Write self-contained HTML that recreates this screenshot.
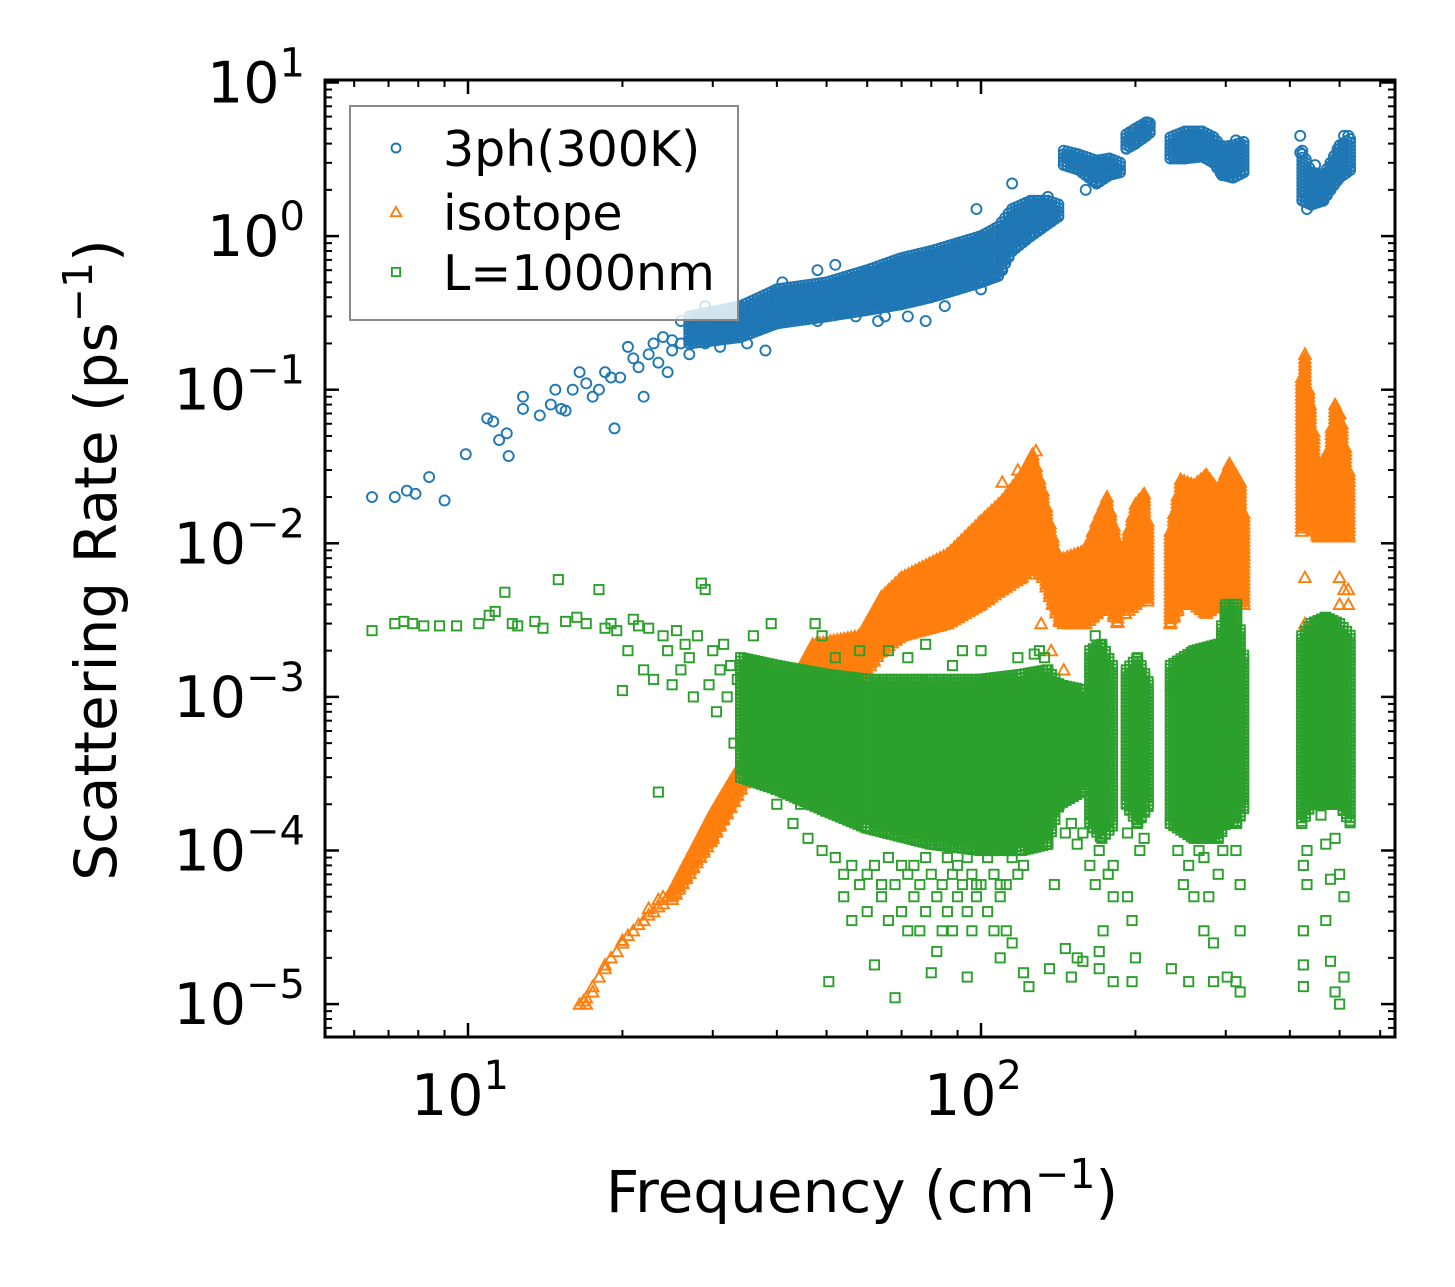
<!DOCTYPE html>
<html><head><meta charset="utf-8"><style>
html,body{margin:0;padding:0;background:#fff;}
svg{display:block;font-family:"DejaVu Sans","Liberation Sans",sans-serif;}
</style></head><body>
<svg id="chart" width="1455" height="1287" viewBox="0 0 1455 1287" xmlns="http://www.w3.org/2000/svg">
<g id="marks"></g>
<g id="axes"></g>
</svg>
<script>
// ---- data ----
const yTickExps = [1, 0, -1, -2, -3, -4, -5];
const xTickExps = [1, 2];
const seriesNames = ["3ph(300K)", "isotope", "L=1000nm"];

// dense clusters: each a list of [freq, rateLow, rateHigh] edge samples
const ph3Clusters = [
 [[27,0.2,0.3],[34,0.22,0.35],[40,0.27,0.45],[50,0.3,0.5],[60,0.33,0.6],[70,0.36,0.72],[80,0.4,0.8],[90,0.45,0.9],[100,0.5,1.0],[108,0.55,1.15],[115,0.8,1.5],[125,1.0,1.7],[135,1.2,1.7],[142,1.35,1.6]],
 [[145,2.9,3.6],[155,2.7,3.4],[168,2.2,3.1],[178,2.5,3.2],[187,2.6,3.0]],
 [[192,3.7,4.6],[200,4.0,5.0],[210,4.5,5.5],[215,4.8,5.4]],
 [[234,3.2,4.4],[250,3.2,4.8],[270,3.3,4.8],[284,3.0,4.4],[295,2.5,3.8],[310,2.4,3.9],[325,2.6,4.1]],
 [[423,1.7,3.6],[440,1.6,2.6],[465,1.7,2.5],[480,2.0,3.0],[500,2.4,3.9],[525,2.7,4.3]]
];
const isoClusters = [
 [[25,4.8e-5,5.6e-5],[30,1.2e-4,1.8e-4],[36,3.5e-4,5e-4],[42,7e-4,1.1e-3],[47,1e-3,2.2e-3],[58,1.3e-3,2.5e-3],[64,2e-3,4.5e-3],[70,2.5e-3,6e-3],[86,3e-3,8.5e-3],[100,4e-3,1.4e-2],[110,5e-3,1.9e-2],[120,6e-3,2.8e-2],[126,7e-3,3.8e-2],[132,6e-3,2.2e-2],[138,4e-3,1.1e-2],[143,3e-3,7e-3]],
 [[145,3e-3,8e-3],[160,3e-3,9e-3],[168,3.5e-3,1.4e-2],[176,4e-3,2e-2],[185,3e-3,1e-2]],
 [[191,3.5e-3,1e-2],[200,4e-3,1.8e-2],[208,4.5e-3,2.1e-2],[214,4e-3,1e-2]],
 [[234,3e-3,1.2e-2],[245,4e-3,2.6e-2],[260,4e-3,2.4e-2],[275,3.5e-3,2.8e-2],[290,4e-3,2.2e-2],[305,4e-3,3.3e-2],[320,4e-3,2.5e-2],[328,4e-3,1.2e-2]],
 [[422,1.2e-2,0.12],[428,1.3e-2,0.16],[438,1.3e-2,0.08],[455,1.1e-2,3e-2],[475,1.1e-2,4e-2],[490,1.1e-2,8e-2],[505,1.1e-2,6e-2],[525,1.1e-2,2.5e-2]]
];
const bdyClusters = [
 [[34,3e-4,1.8e-3],[40,2.5e-4,1.6e-3],[50,1.8e-4,1.4e-3],[60,1.4e-4,1.3e-3],[80,1.1e-4,1.3e-3],[100,1e-4,1.3e-3],[120,1e-4,1.4e-3],[135,1.1e-4,1.5e-3],[142,2e-4,1.2e-3],[160,2.5e-4,1.1e-3]],
 [[163,1.5e-4,2e-3],[172,1.2e-4,2.2e-3],[182,1.5e-4,1.5e-3]],
 [[192,2e-4,1.5e-3],[202,1.5e-4,1.8e-3],[213,2e-4,1.2e-3]],
 [[234,1.5e-4,1.6e-3],[260,1.2e-4,2e-3],[290,1.2e-4,2.2e-3],[300,1.5e-4,4e-3],[315,1.5e-4,4e-3],[328,2e-4,1.5e-3]],
 [[422,1.5e-4,2.5e-3],[440,2e-4,3e-3],[470,2e-4,3.3e-3],[500,2e-4,3e-3],[525,1.5e-4,2.5e-3]]
];

// scattered points: [freq, [rates...]]
const ph3Rows = [[6.5,[0.02]],[7.2,[0.02]],[7.6,[0.022]],[7.9,[0.021]],[8.4,[0.027]],[9,[0.019]],[9.9,[0.038]],[10.9,[0.065]],[11.2,[0.062]],[11.5,[0.047]],[11.9,[0.052]],[12,[0.037]],[12.8,[0.075,0.09]],[13.8,[0.068]],[14.5,[0.08]],[14.8,[0.1]],[15.2,[0.075]],[15.5,[0.073]],[16,[0.1]],[16.5,[0.13]],[17,[0.11]],[17.5,[0.09]],[18,[0.1]],[18.5,[0.13]],[19,[0.12]],[19.3,[0.056]],[19.8,[0.12]],[20.5,[0.19]],[21,[0.16]],[21.5,[0.14]],[22,[0.09]],[22.5,[0.17]],[23,[0.2]],[23.5,[0.15]],[24,[0.22]],[24.5,[0.13]],[25,[0.18,0.21]],[26,[0.28,0.2]],[27,[0.25,0.17]],[29,[0.35,0.2]],[31,[0.19]],[35,[0.2]],[38,[0.18]],[41,[0.5]],[44,[0.3]],[48,[0.6,0.28]],[52,[0.65]],[57,[0.3]],[63,[0.28]],[65,[0.3]],[72,[0.3]],[78,[0.28]],[85,[0.35]],[88,[0.8]],[95,[0.5]],[98,[1.5]],[100,[0.45]],[106,[0.55]],[110,[0.6]],[115,[2.2]],[118,[0.95]],[124,[1.3]],[135,[1.8]],[160,[2.0]],[211,[5.5]],[314,[4.2]],[419,[4.5,3.5]],[432,[1.5]],[448,[2.9]],[510,[4.0,4.5]],[520,[4.5]]];
const isoRows = [[16.5,[1e-5]],[16.8,[1.05e-5]],[17,[1e-5,1.1e-5]],[17.5,[1.2e-5,1.3e-5]],[18,[1.5e-5]],[18.5,[1.7e-5,1.8e-5]],[19,[2e-5]],[19.5,[2.2e-5]],[20,[2.5e-5,2.6e-5]],[20.5,[2.8e-5]],[21,[3e-5]],[21.5,[3.3e-5]],[22,[3.5e-5]],[22.5,[3.8e-5,4.2e-5]],[23,[4e-5]],[23.5,[4.3e-5,4.8e-5]],[24,[4.5e-5,5e-5]],[24.5,[5e-5]],[28,[1e-4]],[110,[2.5e-2]],[118,[3e-2]],[128,[4e-2]],[131,[3e-3]],[137,[2e-3]],[145,[1.5e-3]],[173,[1.7e-2,1.5e-3]],[205,[1.8e-2]],[235,[1.2e-3]],[272,[2.3e-2,1.5e-3]],[302,[3e-2,2e-3]],[428,[0.17,6e-3,3e-3]],[490,[6e-2]],[500,[7e-2,4e-3,6e-3]],[510,[5e-3]],[520,[4e-3,5e-3]]];
const bdyRows = [[6.5,[2.7e-3]],[7.2,[3e-3]],[7.5,[3.1e-3]],[7.8,[3e-3]],[8.2,[2.9e-3]],[8.8,[2.9e-3]],[9.5,[2.9e-3]],[10.5,[3e-3]],[11,[3.4e-3]],[11.3,[3.6e-3]],[11.8,[4.8e-3]],[12.2,[3e-3]],[12.5,[2.9e-3]],[13.5,[3.1e-3]],[14,[2.8e-3]],[15,[5.8e-3]],[15.5,[3.1e-3]],[16.3,[3.3e-3]],[17,[3e-3]],[18,[5e-3]],[18.5,[2.8e-3]],[19,[3e-3]],[19.5,[2.7e-3]],[20,[1.1e-3]],[20.5,[2e-3]],[21,[3.2e-3]],[21.5,[2.9e-3]],[22,[1.5e-3]],[22.5,[2.8e-3]],[23,[1.3e-3]],[23.5,[2.4e-4]],[24,[2.5e-3]],[24.5,[2e-3]],[25,[1.2e-3]],[25.5,[2.7e-3]],[26,[1.5e-3]],[26.5,[2.2e-3]],[27,[1.8e-3]],[27.5,[1e-3]],[28,[2.5e-3]],[28.5,[5.5e-3]],[29,[5e-3]],[29.5,[1.2e-3]],[30,[2e-3]],[30.5,[8e-4]],[31,[1.5e-3]],[31.5,[2.2e-3]],[32,[1e-3]],[32.5,[1.6e-3]],[33,[5e-4]],[33.5,[1.3e-3]],[34,[7e-4]],
[36,[2.5e-3]],[39,[3e-3]],[40,[2e-4]],[43,[1.5e-4]],[44.5,[2e-4]],[46,[1.2e-4]],[47.5,[3e-3]],[49,[1e-4,2.5e-3]],[50.5,[1.4e-5]],[52,[9e-5,1.8e-3]],[54,[5e-5,7e-5]],[56,[8e-5,3.5e-5]],[58,[6e-5,2e-3]],[60,[7e-5,4e-5]],[62,[8e-5,1.8e-5]],[64,[6e-5,5e-5]],[66,[9e-5,3.5e-5,2e-3]],[68,[6e-5,1.1e-5]],[70,[8e-5,4e-5]],[72,[7e-5,3e-5,1.8e-3]],[74,[8e-5,5e-5]],[76,[6e-5,3e-5]],[78,[9e-5,4e-5,2.2e-3]],[80,[7e-5,1.6e-5]],[82,[5e-5,2.2e-5]],[84,[6e-5,3e-5]],[86,[9e-5,4e-5]],[88,[7e-5,3e-5,1.6e-3]],[90,[8e-5,5e-5]],[92,[6e-5,2e-3]],[94,[9e-5,4e-5,1.5e-5]],[96,[7e-5,3e-5]],[98,[6e-5,5e-5]],[100,[6e-5,2e-3]],[103,[9e-5,4e-5]],[106,[7e-5,3e-5]],[109,[6e-5,5e-5,2e-5]],[112,[6e-5,3e-5]],[115,[9e-5,2.5e-5]],[118,[7e-5,1.8e-3]],[121,[8e-5,1.6e-5]],[124,[1.3e-5]],[127,[1.9e-3]],[130,[2e-3]],[133,[1.8e-3]],[136,[1.7e-5]],[139,[6e-5]],[146,[2.3e-5,1.3e-4]],[150,[1.5e-4,1.5e-5]],[154,[1.1e-4,2e-5]],[158,[1.3e-4,1.9e-5]],
[163,[8e-5]],[167,[2.5e-3,6e-5]],[170,[1e-4,1.7e-5,2.2e-5]],[173,[3e-5]],[177,[7e-5]],[181,[8e-5,1.4e-5,5e-5]],[193,[1.3e-4,5e-5]],[197,[3.5e-5,1.4e-5]],[200,[2e-5]],[204,[1e-4]],[208,[1.2e-4]],[235,[1.7e-5]],[242,[1e-4]],[248,[6e-5]],[254,[8e-5,1.4e-5]],[260,[5e-5]],[266,[1e-4]],[272,[9e-5,3e-5]],[278,[5e-5]],[284,[2.5e-5,1.4e-5]],[290,[7e-5]],[296,[1e-4]],[302,[1.5e-5]],[314,[1e-4,1.4e-5]],[320,[6e-5,3e-5,1.2e-5]],[425,[8e-5,3e-5,1.3e-5,1.8e-5]],[432,[1e-4,6e-5]],[460,[1.7e-4]],[470,[1.1e-4,3.5e-5]],[480,[6.5e-5,1.9e-5]],[490,[1.2e-4,1.2e-5]],[500,[7e-5,1e-5]],[510,[5e-5,1.5e-5]]];

// ---- scales ----
const L=325, R=1395, T=80, B=1037;
const xPx = 513, yPx = 153.6;
function xs(f){ return 468 + (Math.log10(f)-1)*xPx; }
function ys(r){ return 82.5 + (1-Math.log10(r))*yPx; }

const NS="http://www.w3.org/2000/svg";
const marks=document.getElementById('marks');
const axes=document.getElementById('axes');
function mk(tag, attrs, parent){ const e=document.createElementNS(NS,tag); for(const k in attrs) e.setAttribute(k,attrs[k]); parent.appendChild(e); return e; }

const clip=mk('clipPath',{id:'pc'},marks); mk('rect',{x:L,y:T,width:R-L,height:B-T},clip);

function marker(kind,x,y,color,s,parent){
  let e;
  if(kind==='circle') e=mk('circle',{cx:x,cy:y,r:5*s,fill:'none',stroke:color,'stroke-width':1.9},parent);
  else if(kind==='tri'){ const h=5.8*s; e=mk('polygon',{points:`${x},${y-h} ${x-h},${y+h*0.8} ${x+h},${y+h*0.8}`,fill:'none',stroke:color,'stroke-width':1.9},parent); }
  else e=mk('rect',{x:x-4.6*s,y:y-4.6*s,width:9.2*s,height:9.2*s,fill:'none',stroke:color,'stroke-width':1.9},parent);
  return e;
}
function drawSeries(name,kind,color,clusters,rows){
  const g=mk('g',{'clip-path':'url(#pc)'},marks);
  
  
  clusters.forEach(c=>{
    for(let i=0;i<c.length-1;i++){
      const a=c[i], b=c[i+1];
      const xa=xs(a[0]), xb=xs(b[0]);
      for(let x=xa;x<xb;x+=3.5){
        const t=(x-xa)/(xb-xa);
        const yTop=ys(a[2])+(ys(b[2])-ys(a[2]))*t;
        const yBot=ys(a[1])+(ys(b[1])-ys(a[1]))*t;
        for(let y=yTop;y<=yBot+0.1;y+=3.5) marker(kind,x,y,color,1,g);
        marker(kind,x,yBot,color,1,g);
      }
    }
  });
  rows.forEach(r=>r[1].forEach(v=>{
    const m=marker(kind,xs(r[0]),ys(v),color,1,g);
    
    
  }));
}
drawSeries('series-3ph','circle','#1f77b4',ph3Clusters,ph3Rows);
drawSeries('series-isotope','tri','#ff7f0e',isoClusters,isoRows);
drawSeries('series-boundary','square','#2ca02c',bdyClusters,bdyRows);

// ---- axes ----
yTickExps.forEach(e=>{
  const y=ys(Math.pow(10,e));
  mk('line',{x1:L,x2:L+14,y1:y,y2:y,stroke:'#000','stroke-width':2.5},axes);
  mk('line',{x1:R,x2:R-14,y1:y,y2:y,stroke:'#000','stroke-width':2.5},axes);
  const t=mk('text',{x:L-20,y:y+20,'text-anchor':'end','font-size':57,fill:'#000'},axes);
  
  
  t.innerHTML='10<tspan dy="-26" font-size="40">'+(e<0?'\u2212'+(-e):e)+'</tspan>';
});
for(let e=-6;e<=1;e++) for(let m=2;m<=9;m++){
  const y=ys(m*Math.pow(10,e)); if(y<T||y>B) continue;
  mk('line',{x1:L,x2:L+7,y1:y,y2:y,stroke:'#000','stroke-width':2},axes);
  mk('line',{x1:R,x2:R-7,y1:y,y2:y,stroke:'#000','stroke-width':2},axes);
}
xTickExps.forEach(e=>{
  const x=xs(Math.pow(10,e));
  mk('line',{x1:x,x2:x,y1:B,y2:B-14,stroke:'#000','stroke-width':2.5},axes);
  mk('line',{x1:x,x2:x,y1:T,y2:T+14,stroke:'#000','stroke-width':2.5},axes);
  const t=mk('text',{x:x-8,y:1115,'text-anchor':'middle','font-size':57,fill:'#000'},axes);
  
  
  t.innerHTML='10<tspan dy="-26" font-size="40">'+e+'</tspan>';
});
for(let e=0;e<=2;e++) for(let m=2;m<=9;m++){
  const x=xs(m*Math.pow(10,e)); if(x<L||x>R) continue;
  mk('line',{x1:x,x2:x,y1:B,y2:B-7,stroke:'#000','stroke-width':2},axes);
  mk('line',{x1:x,x2:x,y1:T,y2:T+7,stroke:'#000','stroke-width':2},axes);
}
mk('rect',{x:L,y:T,width:R-L,height:B-T,fill:'none',stroke:'#000','stroke-width':3},axes);

const xt=mk('text',{x:862,y:1212,'text-anchor':'middle','font-size':58,fill:'#000'},axes);


xt.innerHTML='Frequency (cm<tspan dy="-24" font-size="41">\u22121</tspan><tspan dy="24">)</tspan>';
const yt=mk('text',{x:0,y:0,'text-anchor':'middle','font-size':58,fill:'#000',transform:'translate(116,560) rotate(-90)'},axes);


yt.innerHTML='Scattering Rate (ps<tspan dy="-24" font-size="41">\u22121</tspan><tspan dy="24">)</tspan>';

const lg=mk('g',{},axes);


mk('rect',{x:350,y:106,width:388,height:214,fill:'#fff','fill-opacity':0.8,stroke:'#888','stroke-width':2},lg);
const legKinds=['circle','tri','square'], legColors=['#1f77b4','#ff7f0e','#2ca02c'], legY=[148,212,272];
seriesNames.forEach((n,i)=>{
  const en=mk('g',{},lg);
  
  
  marker(legKinds[i],396,legY[i],legColors[i],0.9,en);
  const t=mk('text',{x:443,y:legY[i]+18,'font-size':49,fill:'#000'},en);
  t.textContent=n;
});
</script>
</body></html>
